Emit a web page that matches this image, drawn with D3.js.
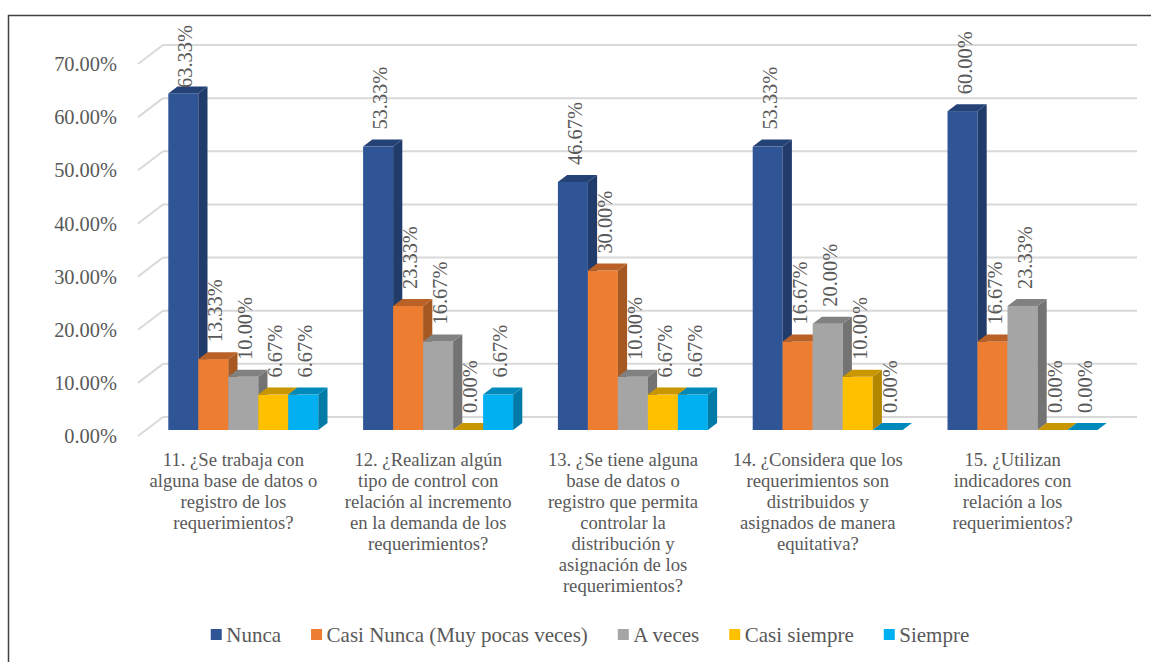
<!DOCTYPE html>
<html>
<head>
<meta charset="utf-8">
<script src="https://cdn.jsdelivr.net/npm/d3@7"></script>
<style>
  html, body { margin: 0; padding: 0; background: #fff; }
  svg { display: block; font-family: "Liberation Serif", "Times New Roman", serif; }
</style>
</head>
<body>
<svg id="chart" width="1151" height="662"></svg>
<script>
// ---------- data ----------
const categories = [
  "11. ¿Se trabaja con\nalguna base de datos o\nregistro de los\nrequerimientos?",
  "12. ¿Realizan algún\ntipo de control con\nrelación al incremento\nen la demanda de los\nrequerimientos?",
  "13. ¿Se tiene alguna\nbase de datos o\nregistro que permita\ncontrolar la\ndistribución y\nasignación de los\nrequerimientos?",
  "14. ¿Considera que los\nrequerimientos son\ndistribuidos y\nasignados de manera\nequitativa?",
  "15. ¿Utilizan\nindicadores con\nrelación a los\nrequerimientos?"
];
const seriesNames = ["Nunca", "Casi Nunca (Muy pocas veces)", "A veces", "Casi siempre", "Siempre"];
const nunca       = [0.6333, 0.5333, 0.4667, 0.5333, 0.6000];
const casiNunca   = [0.1333, 0.2333, 0.3000, 0.1667, 0.1667];
const aVeces      = [0.1000, 0.1667, 0.1000, 0.2000, 0.2333];
const casiSiempre = [0.0667, 0.0000, 0.0667, 0.1000, 0.0000];
const siempre     = [0.0667, 0.0667, 0.0667, 0.0000, 0.0000];
const yTicks = [0, 0.1, 0.2, 0.3, 0.4, 0.5, 0.6, 0.7];
const seriesColors = ["#2F5597", "#ED7D31", "#A5A5A5", "#FFC000", "#00B0F0"];

const seriesValues = [nunca, casiNunca, aVeces, casiSiempre, siempre];

// ---------- layout ----------
const svg = d3.select("#chart");
const W = 1151, H = 662;
const wallLeft = 163, wallRight = 1137;
const wallDX = -25, wallDY = 19;          // back wall -> front plane offset
const barFrontDX = -17.1, barFrontDY = 13; // back wall -> bar front face
const depthDX = 9.2, depthDY = -7;         // bar depth (front -> back)
const plotTop = 25;
const txtColor = "#595959";
const gridColor = "#D9D9D9";

const y = d3.scaleLinear().domain([0, 0.7]).range([417, 45]);
const x0 = d3.scaleBand().domain(d3.range(categories.length)).range([wallLeft, wallRight])
  .paddingInner(0.23).paddingOuter(0.115);
const x1 = d3.scaleBand().domain(d3.range(seriesNames.length)).range([0, x0.bandwidth()]);
const fmt = d3.format(".2%");

// chart border
svg.append("rect").attr("x", 8.5).attr("y", 15.5).attr("width", W + 10).attr("height", H + 10)
  .attr("fill", "none").attr("stroke", "#404040").attr("stroke-width", 1.5);

// gridlines (back wall + left wall)
const grid = svg.append("g");
yTicks.forEach(t => {
  const yb = y(t);
  grid.append("line").attr("x1", wallLeft).attr("x2", wallRight).attr("y1", yb).attr("y2", yb)
    .attr("stroke", gridColor).attr("stroke-width", 2);
  grid.append("line").attr("x1", wallLeft + wallDX).attr("y1", yb + wallDY).attr("x2", wallLeft).attr("y2", yb)
    .attr("stroke", gridColor).attr("stroke-width", 2);
});

// y-axis tick labels
svg.append("g").selectAll("text").data(yTicks).join("text")
  .attr("x", 117).attr("y", d => y(d) + wallDY).attr("dy", "0.35em")
  .attr("text-anchor", "end").attr("font-size", 20.4).attr("fill", txtColor)
  .text(d => fmt(d));

// bars
const bars = svg.append("g");
const labels = [];
categories.forEach((c, ci) => {
  seriesValues.forEach((vals, si) => {
    const v = vals[ci];
    const col = d3.color(seriesColors[si]);
    const xl = x0(ci) + x1(si) + barFrontDX;
    const xr = xl + x1.bandwidth();
    const yb = y(0) + barFrontDY;
    const yt = y(v) + barFrontDY;
    const g = bars.append("g");
    // front
    g.append("rect").attr("x", xl).attr("y", yt).attr("width", xr - xl).attr("height", yb - yt)
      .attr("fill", col.formatHex());
    // side
    g.append("polygon").attr("points", [
      [xr, yb], [xr + depthDX, yb + depthDY], [xr + depthDX, yt + depthDY], [xr, yt]
    ].map(p => p.join(",")).join(" ")).attr("fill", col.darker(1.0).formatHex());
    // top
    g.append("polygon").attr("points", [
      [xl, yt], [xr, yt], [xr + depthDX, yt + depthDY], [xl + depthDX, yt + depthDY]
    ].map(p => p.join(",")).join(" ")).attr("fill", col.darker(0.7).formatHex());
    labels.push({ x: (xl + xr) / 2 + 2, yTop: yt, v });
  });
});

// value labels (rotated)
const lg = svg.append("g");
labels.forEach(d => {
  const t = lg.append("text").attr("font-size", 20.4).attr("fill", txtColor)
    .attr("text-anchor", "start").attr("dy", "0.35em").text(fmt(d.v));
  const len = t.node().getComputedTextLength();
  let bottom = d.yTop - 17;
  if (bottom - len < plotTop) bottom = plotTop + len;
  t.attr("transform", `translate(${d.x},${bottom}) rotate(-90)`);
});

// category labels
const cg = svg.append("g");
categories.forEach((c, ci) => {
  const cx = x0(ci) + x0.bandwidth() / 2 - 27;
  const t = cg.append("text").attr("text-anchor", "middle").attr("font-size", 18.67).attr("fill", txtColor);
  c.split("\n").forEach((line, li) => {
    t.append("tspan").attr("x", cx).attr("y", 466 + li * 21).text(line);
  });
});

// legend
const legend = svg.append("g");
const items = [];
let cursor = 0;
seriesNames.forEach((n, i) => {
  const g = legend.append("g");
  g.append("rect").attr("x", 0).attr("y", 629).attr("width", 11).attr("height", 11).attr("fill", seriesColors[i]);
  const t = g.append("text").attr("x", 15.5).attr("y", 642).attr("font-size", 21).attr("fill", txtColor).text(n);
  const w = 15.5 + t.node().getComputedTextLength();
  items.push({ g, w });
});
const gap = 30;
const total = d3.sum(items, d => d.w) + gap * (items.length - 1);
let start = 590 - total / 2;
items.forEach(it => { it.g.attr("transform", `translate(${start},0)`); start += it.w + gap; });
</script>
</body>
</html>
